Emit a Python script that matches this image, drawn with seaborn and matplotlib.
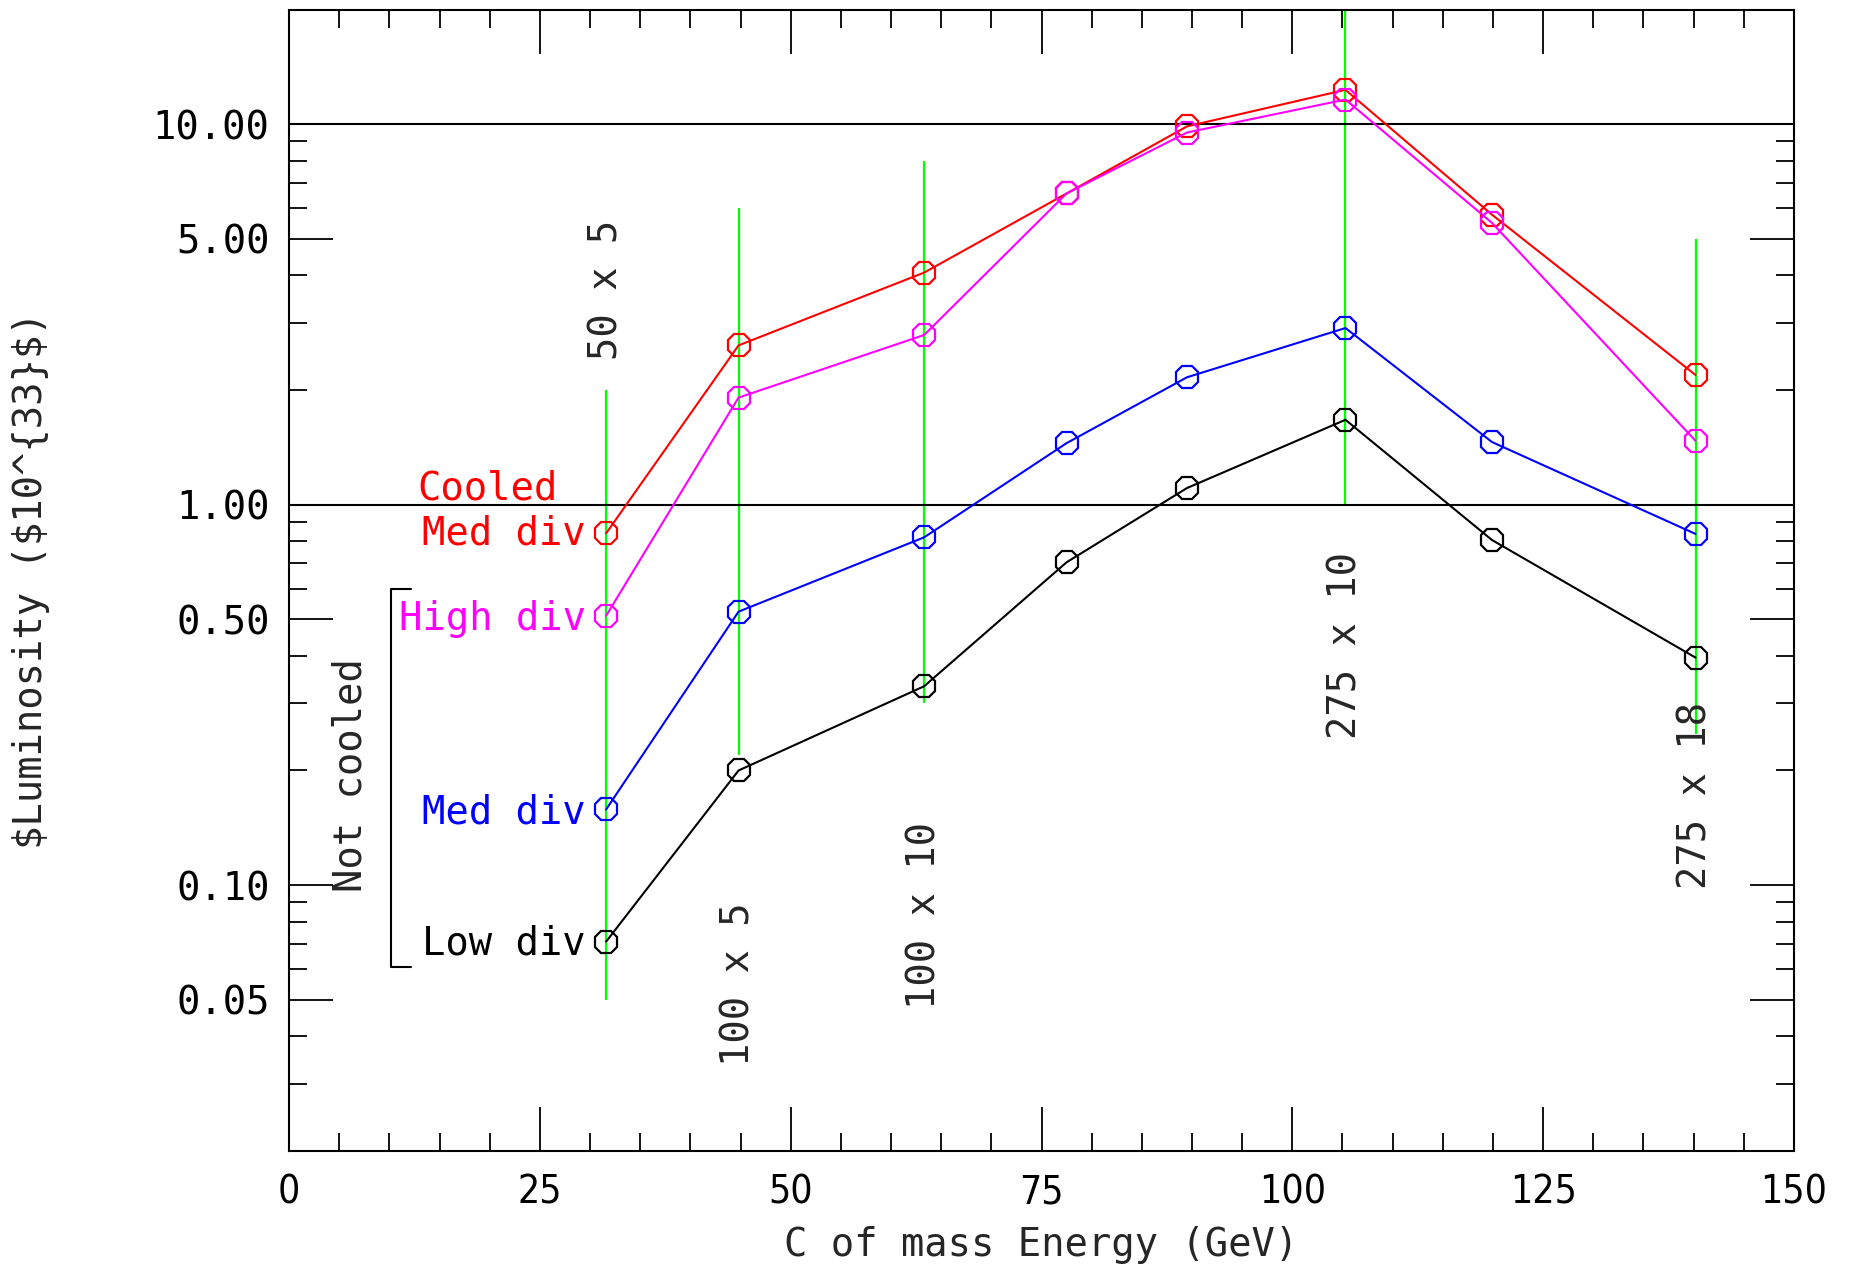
import numpy as np
import pandas as pd
import matplotlib
matplotlib.use("Agg")
import matplotlib.pyplot as plt
import matplotlib.ticker as mticker
import seaborn as sns

# centre of mass energy of each machine setting (GeV)
energy = [31.6, 44.8, 63.3, 77.5, 89.5, 105.3, 119.9, 140.2]

# luminosity in 1e33 units
cooled_med = [0.84, 2.62, 4.07, 6.57, 9.86, 12.3, 5.78, 2.19]
notcooled_high = [0.51, 1.91, 2.79, 6.57, 9.5, 11.6, 5.5, 1.47]
notcooled_med = [0.158, 0.523, 0.82, 1.45, 2.16, 2.91, 1.46, 0.837]
notcooled_low = [0.071, 0.20, 0.333, 0.705, 1.105, 1.67, 0.807, 0.396]

series_names = ["Cooled Med div", "High div", "Med div", "Low div"]
series_colors = ["#ff0000", "#ff00ff", "#0000ff", "#000000"]

# green bars for the beam energy combos
combo_x = [31.6, 44.8, 63.3, 105.3, 140.2]
combo_lo = [0.05, 0.22, 0.30, 1.0, 0.25]
combo_hi = [2.0, 6.0, 8.0, 20.0, 5.0]
combo_labels = ["50 x 5", "100 x 5", "100 x 10", "275 x 10", "275 x 18"]
combo_label_y = [3.66, 0.055, 0.083, 0.425, 0.172]

df = pd.DataFrame({
    "energy": energy * 4,
    "lumi": cooled_med + notcooled_high + notcooled_med + notcooled_low,
    "series": np.repeat(series_names, len(energy)),
})

sns.set_style("white")
plt.rcParams["font.family"] = ["DejaVu Sans Mono"]
FS = 28

fig = plt.figure(figsize=(18.58, 12.69), dpi=100)
ax = fig.add_axes([0.1556, 0.093, 0.8099, 0.8995])

ax.set_yscale("log")
ax.set_xlim(0, 150)
ax.set_ylim(0.02, 20)

ax.vlines(combo_x, combo_lo, combo_hi, color="#00ff00", lw=1.6, zorder=1)
ax.axhline(1.0, color="black", lw=1.5, zorder=1)
ax.axhline(10.0, color="black", lw=1.5, zorder=1)

for name, col in zip(series_names, series_colors):
    sub = df[df["series"] == name]
    sns.lineplot(data=sub, x="energy", y="lumi", color=col, sort=False,
                 marker="8", markersize=17, markerfacecolor="none",
                 markeredgecolor=col, markeredgewidth=1.6, lw=1.5, ax=ax,
                 zorder=3)

for x, y, t in zip(combo_x, combo_label_y, combo_labels):
    ax.text(x, y, t, rotation=90, ha="center", va="center", fontsize=FS)

# curve labels on the left
ax.text(12.8, 1.1, "Cooled", color="#ff0000", fontsize=FS, ha="left", va="center")
ax.text(29.6, 0.84, "Med div", color="#ff0000", fontsize=FS, ha="right", va="center")
ax.text(29.6, 0.50, "High div", color="#ff00ff", fontsize=FS, ha="right", va="center")
ax.text(29.6, 0.155, "Med div", color="#0000ff", fontsize=FS, ha="right", va="center")
ax.text(29.6, 0.070, "Low div", color="black", fontsize=FS, ha="right", va="center")
ax.text(6.1, 0.195, "Not cooled", rotation=90, fontsize=FS, ha="center", va="center")
ax.plot([12.2, 10.2, 10.2, 12.2], [0.60, 0.60, 0.061, 0.061], color="black", lw=1.5)

ax.set_xticks(np.arange(0, 151, 25))
ax.xaxis.set_minor_locator(mticker.MultipleLocator(5))
ax.set_yticks([0.05, 0.1, 0.5, 1, 5, 10])
ax.yaxis.set_major_formatter(mticker.FormatStrFormatter("%.2f"))
ax.yaxis.set_minor_locator(mticker.LogLocator(base=10, subs=[2, 3, 4, 6, 7, 8, 9]))
ax.yaxis.set_minor_formatter(mticker.NullFormatter())

ax.tick_params(which="both", direction="in", top=True, right=True, left=True,
               bottom=True, width=1.3, colors="black")
ax.tick_params(which="major", length=32)
ax.tick_params(which="minor", length=13)
ax.tick_params(axis="y", which="major", labelsize=FS, pad=14)
ax.tick_params(axis="x", which="major", labelsize=FS, pad=16)
for lab in ax.get_xticklabels():
    lab.set_fontfamily("DejaVu Sans")
    lab.set_fontstretch("condensed")

for s in ax.spines.values():
    s.set_linewidth(1.5)
    s.set_color("black")

ax.set_xlabel("C of mass Energy (GeV)", fontsize=FS)
ax.set_ylabel("$Luminosity ($10^{33}$)", fontsize=FS, parse_math=False)
ax.xaxis.set_label_coords(0.5, -0.066)
ax.yaxis.set_label_coords(-0.159, 0.5)

fig.savefig("out.png", dpi=100)
